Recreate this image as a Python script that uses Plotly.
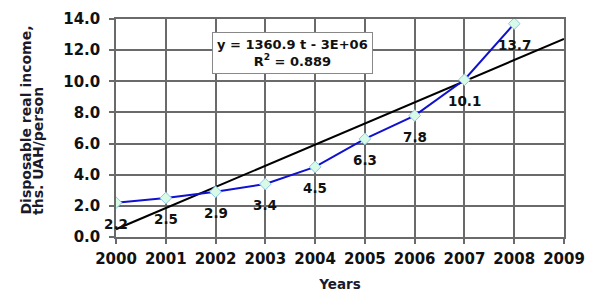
import numpy as np
import plotly.graph_objects as go

years = [2000, 2001, 2002, 2003, 2004, 2005, 2006, 2007, 2008]
income = [2.2, 2.5, 2.9, 3.4, 4.5, 6.3, 7.8, 10.1, 13.7]
x_ticks = list(range(2000, 2010))
y_ticks = [0, 2, 4, 6, 8, 10, 12, 14]
y_ticklabels = [f"{v:.1f}" for v in y_ticks]
equation_text = "y = 1360.9 t - 3E+06<br>R<sup>2</sup> = 0.889"
y_title_lines = ["Disposable real income,", "ths. UAH/person"]
x_title = "Years"

slope, intercept = np.polyfit(years, income, 1)
trend_x = [2000, 2009]
trend_y = [slope * x + intercept for x in trend_x]

FONT = "DejaVu Sans"
GRID = "#6a6a6a"
fig = go.Figure()
fig.add_trace(go.Scatter(x=trend_x, y=trend_y, mode="lines",
                         line=dict(color="black", width=2), showlegend=False))
fig.add_trace(go.Scatter(x=years, y=income, mode="lines+markers",
                         line=dict(color="#1010d0", width=2),
                         marker=dict(symbol="diamond", size=9, color="#d8fbe8",
                                     line=dict(color="#8ec8e8", width=1)),
                         showlegend=False))

for x, y in zip(years, income):
    fig.add_annotation(x=x, y=y, text=f"<b>{y:.1f}</b>", showarrow=False,
                       yshift=-21, font=dict(family=FONT, size=13.5, color="#111"))

fig.add_annotation(x=2003.54, y=11.83, text="<b>" + equation_text + "</b>", showarrow=False,
                   bgcolor="white", bordercolor="#888", borderwidth=1, borderpad=4,
                   font=dict(family=FONT, size=13, color="#111"))

for i, line in enumerate(y_title_lines):
    fig.add_annotation(xref="paper", yref="paper", x=0, y=0, xanchor="center", yanchor="bottom",
                       xshift=-91 + 13 * i, yshift=20, textangle=-90, showarrow=False,
                       text=f"<b>{line}</b>",
                       font=dict(family=FONT, size=14, color="#1a1a2a"))

fig.update_layout(
    width=586, height=284,
    margin=dict(l=108, r=30, t=11, b=55),
    plot_bgcolor="white", paper_bgcolor="white",
    xaxis=dict(range=[2000, 2009], tickvals=x_ticks, ticktext=[f"<b>{v}</b>" for v in x_ticks],
               showgrid=True, gridcolor=GRID, gridwidth=1.5,
               ticks="outside", ticklen=5, tickcolor=GRID, tickwidth=1.5,
               showline=True, linecolor=GRID, linewidth=1.5, mirror=True, automargin=False,
               zeroline=False, tickfont=dict(family=FONT, size=15, color="#111"),
               ticklabelstandoff=2,
               title=dict(text=f"<b>{x_title}</b>", font=dict(family=FONT, size=13.5, color="#1a1a2a"),
                          standoff=16)),
    yaxis=dict(range=[0, 14], tickvals=y_ticks, ticktext=[f"<b>{t}</b>" for t in y_ticklabels],
               showgrid=True, gridcolor=GRID, gridwidth=1.5,
               ticks="outside", ticklen=5, tickcolor=GRID, tickwidth=1.5,
               showline=True, linecolor=GRID, linewidth=1.5, mirror=True, automargin=False,
               zeroline=False, tickfont=dict(family=FONT, size=15, color="#111"),
               ticklabelstandoff=6),
)

fig.write_html("out.html")
